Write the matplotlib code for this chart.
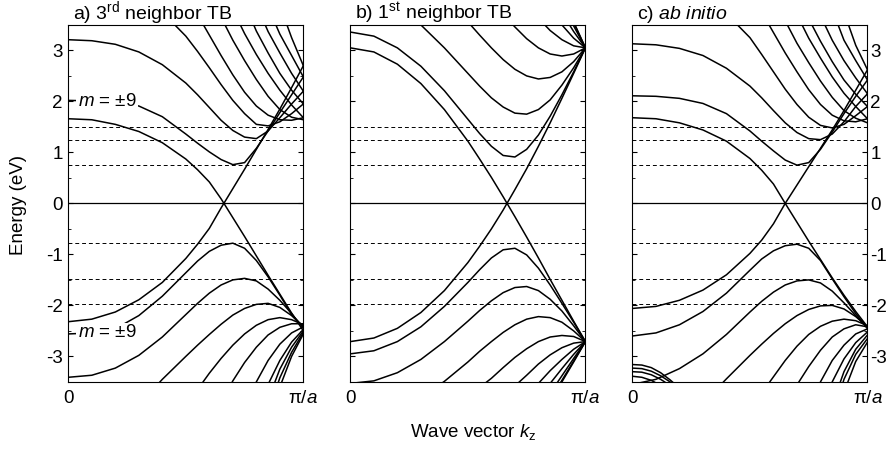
"""
Зонная структура нанотрубки (10,10): 3-и соседи TB, 1-е соседи TB, ab initio.
"""
import numpy as np
import matplotlib.pyplot as plt
from matplotlib.ticker import MultipleLocator

plt.rcParams['font.family'] = ['Liberation Sans', 'DejaVu Sans']
plt.rcParams['axes.unicode_minus'] = False
plt.rcParams['mathtext.fontset'] = 'custom'
plt.rcParams['mathtext.rm'] = 'Liberation Sans'
plt.rcParams['mathtext.it'] = 'Liberation Sans:italic'

nan = np.nan

# волновой вектор в единицах pi/a
K = [0, .1, .2, .3, .4, .5, .55, .6, .65, .7, .75, .8, .85, .9, .95, 1.0]
K_LOW = [0, .04, .08, .12, .16, .2]

# пунктиром - края подзон (эВ)
EDGES = [1.5, 1.25, 0.75, -0.78, -1.48, -1.98]

# a) 3-и соседи
a_metal = [
    [1.66, 1.64, 1.55, 1.41, 1.19, 0.87, 0.66, 0.42, 0.09, -0.28, -0.65,
     -1.03, -1.41, -1.78, -2.15, -2.50],
    [-2.32, -2.27, -2.13, -1.89, -1.55, -1.08, -0.80, -0.49, -0.09, 0.29,
     0.67, 1.06, 1.45, 1.85, 2.27, 2.70],
]
a_cond = [
    [2.02, 2.01, 1.98, 1.91, 1.70, 1.36, 1.18, 1.01, 0.86, 0.76, 0.80, 1.08,
     1.42, 1.78, 2.13, 2.48],
    [3.21, 3.19, 3.12, 2.97, 2.72, 2.36, 2.13, 1.88, 1.63, 1.43, 1.30, 1.27,
     1.42, 1.68, 1.95, 2.20],
    [nan] * 4 + [3.75, 3.28, 2.98, 2.66, 2.33, 2.02, 1.76, 1.55, 1.52, 1.60,
                 1.76, 1.95],
    [nan] * 5 + [4.05, 3.70, 3.30, 2.90, 2.52, 2.18, 1.91, 1.73, 1.64, 1.63,
                 1.68],
    [nan] * 7 + [4.20, 3.65, 3.20, 2.80, 2.43, 2.10, 1.84, 1.69, 1.64],
    [nan] * 8 + [4.40, 3.80, 3.33, 2.92, 2.55, 2.22, 1.93, 1.68],
    [nan] * 9 + [4.60, 3.92, 3.38, 2.95, 2.55, 2.22, 1.95],
    [nan] * 10 + [4.60, 3.90, 3.37, 2.95, 2.55, 2.20],
    [nan] * 11 + [4.55, 3.85, 3.32, 2.90, 2.48],
    [nan] * 12 + [4.60, 3.88, 3.25, 2.70],
]
a_val = [
    [-2.56, -2.54, -2.46, -2.20, -1.82, -1.36, -1.13, -0.94, -0.82, -0.78,
     -0.88, -1.12, -1.44, -1.80, -2.18, -2.42],
    [-3.41, -3.37, -3.23, -2.98, -2.62, -2.18, -1.96, -1.76, -1.60, -1.50,
     -1.47, -1.52, -1.68, -1.90, -2.16, -2.45],
    [nan] * 3 + [-3.95, -3.45, -3.00, -2.78, -2.57, -2.37, -2.19, -2.06,
                 -1.98, -1.96, -2.04, -2.20, -2.42],
    [nan] * 5 + [-4.00, -3.65, -3.33, -3.04, -2.78, -2.56, -2.39, -2.28,
                 -2.24, -2.28, -2.38],
    [nan] * 7 + [-4.30, -3.90, -3.48, -3.12, -2.82, -2.58, -2.43, -2.36,
                 -2.36],
    [nan] * 9 + [-4.55, -4.00, -3.50, -3.08, -2.76, -2.54, -2.42],
    [nan] * 10 + [-4.70, -4.10, -3.55, -3.08, -2.72, -2.47],
    [nan] * 11 + [-4.60, -3.85, -3.25, -2.82, -2.50],
    [nan] * 11 + [-4.90, -4.10, -3.42, -2.92, -2.53],
    [nan] * 12 + [-4.40, -3.60, -3.00, -2.56],
]

# b) 1-е соседи
b_metal = [
    [3.05, 2.97, 2.73, 2.35, 1.84, 1.22, 0.87, 0.51, 0.13, -0.26, -0.66,
     -1.07, -1.49, -1.90, -2.31, -2.71],
    [-2.71, -2.64, -2.45, -2.14, -1.71, -1.16, -0.84, -0.50, -0.13, 0.27,
     0.68, 1.12, 1.58, 2.06, 2.55, 3.05],
]
b_cond = [
    [3.36, 3.28, 3.05, 2.69, 2.21, 1.65, 1.37, 1.12, 0.94, 0.91, 1.06, 1.34,
     1.71, 2.13, 2.58, 3.05],
    [nan, nan, 3.85, 3.50, 3.05, 2.55, 2.30, 2.07, 1.89, 1.77, 1.75, 1.84,
     2.03, 2.32, 2.66, 3.05],
    [nan] * 5 + [3.56, 3.30, 3.05, 2.82, 2.63, 2.50, 2.44, 2.47, 2.58, 2.78,
                 3.05],
    [nan] * 8 + [3.71, 3.46, 3.23, 3.05, 2.93, 2.89, 2.93, 3.05],
    [nan] * 11 + [3.63, 3.39, 3.21, 3.09, 3.05],
    [nan] * 12 + [3.80, 3.50, 3.24, 3.05],
    [nan] * 13 + [3.74, 3.37, 3.05],
    [nan] * 13 + [3.93, 3.48, 3.05],
    [nan] * 14 + [3.54, 3.05],
    [nan] * 14 + [3.56, 3.05],
]
b_val = [
    [-2.95, -2.89, -2.71, -2.42, -2.02, -1.55, -1.30, -1.07, -0.91, -0.88,
     -1.01, -1.27, -1.60, -1.96, -2.33, -2.71],
    [-3.53, -3.48, -3.32, -3.06, -2.71, -2.31, -2.10, -1.91, -1.75, -1.65,
     -1.63, -1.71, -1.88, -2.11, -2.40, -2.71],
    [nan] * 3 + [-3.81, -3.49, -3.11, -2.90, -2.71, -2.53, -2.38, -2.27,
                 -2.22, -2.24, -2.33, -2.50, -2.71],
    [nan] * 5 + [-3.83, -3.61, -3.43, -3.22, -3.02, -2.85, -2.71, -2.62,
                 -2.59, -2.61, -2.71],
    [nan] * 8 + [-3.82, -3.58, -3.37, -3.15, -2.97, -2.83, -2.74, -2.71],
    [nan] * 10 + [-3.79, -3.53, -3.28, -3.06, -2.86, -2.71],
    [nan] * 11 + [-3.84, -3.53, -3.24, -2.96, -2.71],
    [nan] * 12 + [-3.72, -3.38, -3.04, -2.71],
    [nan] * 12 + [-3.83, -3.47, -3.09, -2.71],
    [nan] * 12 + [-3.87, -3.50, -3.11, -2.71],
]

# c) ab initio
c_metal = [
    [1.68, 1.66, 1.58, 1.44, 1.22, 0.88, 0.65, 0.38, 0.00, -0.37, -0.74,
     -1.10, -1.46, -1.80, -2.12, -2.42],
    [-2.06, -2.02, -1.90, -1.70, -1.40, -0.98, -0.72, -0.40, 0.00, 0.36,
     0.72, 1.08, 1.44, 1.82, 2.22, 2.62],
]
c_cond = [
    [2.11, 2.10, 2.06, 1.96, 1.76, 1.42, 1.22, 1.03, 0.85, 0.75, 0.80, 1.06,
     1.40, 1.76, 2.10, 2.42],
    [3.13, 3.11, 3.04, 2.90, 2.65, 2.30, 2.07, 1.82, 1.58, 1.39, 1.27, 1.25,
     1.36, 1.60, 1.90, 2.15],
    [nan] * 4 + [3.72, 3.25, 2.92, 2.58, 2.24, 1.94, 1.69, 1.53, 1.48, 1.55,
                 1.72, 1.90],
    [nan] * 5 + [4.10, 3.75, 3.35, 2.95, 2.58, 2.23, 1.94, 1.73, 1.62, 1.60,
                 1.66],
    [nan] * 7 + [4.10, 3.58, 3.14, 2.76, 2.40, 2.08, 1.82, 1.67, 1.58],
    [nan] * 8 + [4.30, 3.70, 3.24, 2.85, 2.48, 2.16, 1.90, 1.66],
    [nan] * 9 + [4.30, 3.62, 3.18, 2.78, 2.42, 2.14, 1.90],
    [nan] * 10 + [4.40, 3.68, 3.20, 2.80, 2.46, 2.15],
    [nan] * 11 + [4.40, 3.80, 3.20, 2.80, 2.42],
    [nan] * 12 + [4.40, 3.75, 3.10, 2.62],
]
c_val = [
    [-2.60, -2.54, -2.38, -2.12, -1.76, -1.31, -1.09, -0.93, -0.83, -0.80,
     -0.88, -1.12, -1.48, -1.83, -2.16, -2.45],
    [-3.55, -3.45, -3.24, -2.95, -2.57, -2.13, -1.92, -1.74, -1.60, -1.52,
     -1.50, -1.56, -1.72, -1.95, -2.20, -2.45],
    [nan] * 3 + [-3.92, -3.44, -2.98, -2.76, -2.55, -2.36, -2.20, -2.08,
                 -2.01, -2.00, -2.07, -2.22, -2.42],
    [nan] * 5 + [-4.00, -3.72, -3.40, -3.08, -2.80, -2.57, -2.41, -2.31,
                 -2.27, -2.30, -2.40],
    [nan] * 8 + [-3.95, -3.56, -3.20, -2.88, -2.62, -2.46, -2.38, -2.42],
    [nan] * 10 + [-4.00, -3.50, -3.08, -2.78, -2.56, -2.46],
    [nan] * 11 + [-4.00, -3.50, -3.05, -2.73, -2.52],
    [nan] * 11 + [-4.70, -3.95, -3.30, -2.86, -2.58],
    [nan] * 12 + [-4.20, -3.45, -2.96, -2.65],
    [nan] * 12 + [-4.50, -3.70, -3.10, -2.72],
]
# нижние зоны у Г-точки
c_low = [
    [-3.16, -3.17, -3.22, -3.32, -3.46, -3.62],
    [-3.23, -3.24, -3.29, -3.38, -3.50, -3.65],
    [-3.30, -3.31, -3.36, -3.45, -3.57, nan],
    [-3.39, -3.41, -3.47, -3.57, nan, nan],
]

FS = 13.5
LW = 1.1


def draw_panel(ax, bands, title):
    """Одна панель зонной структуры."""
    for e in EDGES:
        ax.axhline(e, color='k', lw=0.7, ls=(0, (4, 3)), zorder=1)
    ax.axhline(0, color='k', lw=0.9, zorder=1)
    for band in bands:
        ax.plot(K, np.array(band, dtype=float), color='k', lw=LW, zorder=2)

    ax.set_xlim(0, 1)
    ax.set_ylim(-3.5, 3.5)
    ax.set_xticks([0, 1])
    ax.set_xticklabels(['0', 'π/$a$'])
    ax.yaxis.set_major_locator(MultipleLocator(1))
    ax.yaxis.set_minor_locator(MultipleLocator(0.5))
    ax.tick_params(axis='x', length=0, pad=6, labelsize=FS)
    ax.tick_params(axis='y', which='both', direction='in', left=True,
                   right=True, labelsize=FS, pad=4)
    ax.tick_params(axis='y', which='major', length=3.5)
    ax.tick_params(axis='y', which='minor', length=2)
    for s in ax.spines.values():
        s.set_linewidth(0.8)
    ax.text(0.02, 1.017, title, transform=ax.transAxes, fontsize=FS + 0.5,
            va='baseline', ha='left')


fig = plt.figure(figsize=(8.87, 4.53), dpi=100)
lefts = [0.077, 0.395, 0.713]
ax_a, ax_b, ax_c = [fig.add_axes([l, 0.157, 0.265, 0.788]) for l in lefts]

draw_panel(ax_a, a_metal + a_cond + a_val, 'a) 3$^{\\mathrm{rd}}$ neighbor TB')
draw_panel(ax_b, b_metal + b_cond + b_val, 'b) 1$^{\\mathrm{st}}$ neighbor TB')
draw_panel(ax_c, c_metal + c_cond + c_val, 'c) $ab$ $initio$')
for band in c_low:
    ax_c.plot(K_LOW, np.array(band, dtype=float), color='k', lw=LW)

ax_a.tick_params(axis='y', labelleft=True, labelright=False)
ax_b.tick_params(axis='y', labelleft=False, labelright=False)
ax_c.tick_params(axis='y', labelleft=False, labelright=True, pad=2)

# подписи зон m = ±9
for e in (1.99, -2.54):
    ax_a.text(0.04, e, '$m$ = ±9', fontsize=FS, va='center', ha='left',
              zorder=3, bbox=dict(facecolor='white', edgecolor='none', pad=1))

fig.text(0.021, 0.548, 'Energy (eV)', rotation=90, fontsize=FS,
         ha='center', va='center')
fig.text(0.462, 0.036, 'Wave vector $k_{\\mathrm{z}}$', fontsize=FS,
         ha='left', va='baseline')

fig.savefig('out.png', dpi=100)
